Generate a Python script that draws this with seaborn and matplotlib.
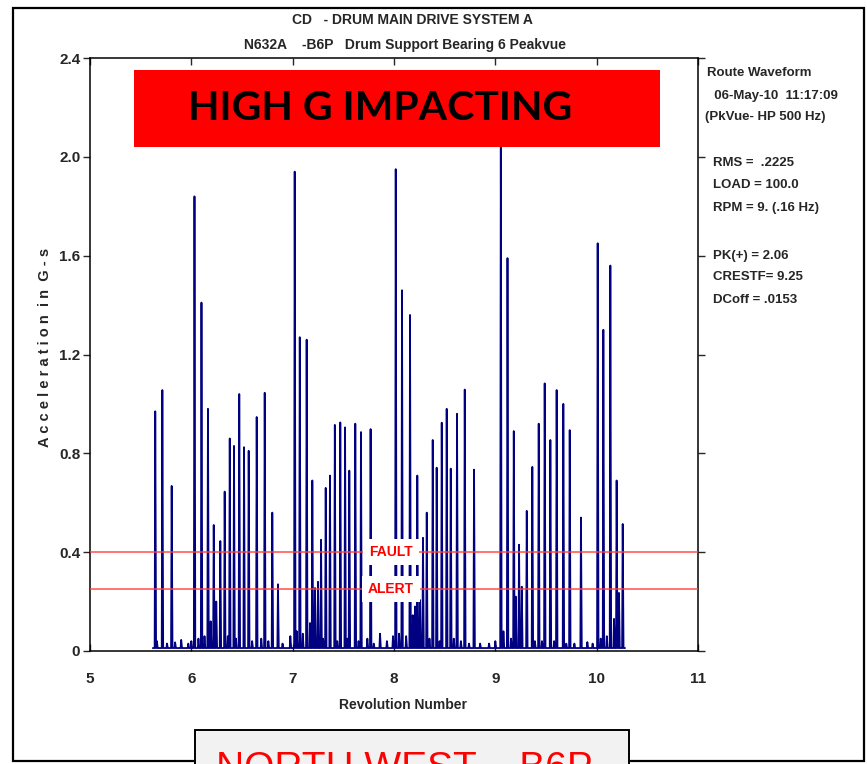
import numpy as np
import pandas as pd
import matplotlib
matplotlib.use("Agg")
import matplotlib.pyplot as plt
from matplotlib import font_manager as fm
from matplotlib.patches import Rectangle
import seaborn as sns

# ---- impacts (revolution, g) ----------------------------------------------
peak_rev = [5.644, 5.714, 5.806, 6.031, 6.100, 6.164, 6.191, 6.221, 6.246, 6.286,
            6.329, 6.379, 6.421, 6.473, 6.520, 6.566, 6.645, 6.724, 6.799, 6.855,
            7.020, 7.070, 7.138, 7.171, 7.194, 7.220, 7.250, 7.280, 7.326, 7.368,
            7.416, 7.470, 7.517, 7.559, 7.618, 7.674, 7.769, 8.017, 8.079, 8.158,
            8.185, 8.207, 8.230, 8.257, 8.286, 8.323, 8.382, 8.421, 8.471, 8.520,
            8.560, 8.622, 8.698, 8.790, 9.054, 9.120, 9.182, 9.202, 9.234, 9.261,
            9.310, 9.365, 9.428, 9.487, 9.543, 9.605, 9.671, 9.734, 9.845, 10.010,
            10.066, 10.135, 10.171, 10.197, 10.220, 10.257]
peak_g = [0.97, 1.056, 0.668, 1.84, 1.41, 0.98, 0.12, 0.51, 0.20, 0.445,
          0.645, 0.86, 0.83, 1.04, 0.825, 0.81, 0.947, 1.045, 0.56, 0.27,
          1.94, 1.27, 1.26, 0.113, 0.69, 0.255, 0.28, 0.45, 0.66, 0.71,
          0.915, 0.925, 0.905, 0.73, 0.92, 0.886, 0.898, 1.95, 1.46, 1.36,
          0.145, 0.18, 0.71, 0.206, 0.458, 0.56, 0.854, 0.742, 0.924, 0.98,
          0.738, 0.96, 1.058, 0.734, 2.06, 1.59, 0.89, 0.22, 0.43, 0.26,
          0.567, 0.745, 0.92, 1.083, 0.854, 1.056, 1.0, 0.894, 0.54, 1.65,
          1.30, 1.56, 0.13, 0.69, 0.235, 0.514]

minor_rev = [5.66, 5.76, 5.84, 5.90, 5.97, 6.00, 6.07, 6.13, 6.36, 6.44,
             6.60, 6.69, 6.76, 6.90, 6.977, 7.04, 7.10, 7.30, 7.44, 7.54,
             7.65, 7.737, 7.80, 7.862, 7.93, 7.99, 8.05, 8.12, 8.35, 8.45,
             8.59, 8.66, 8.74, 8.85, 8.938, 9.00, 9.08, 9.155, 9.39, 9.46,
             9.58, 9.70, 9.78, 9.908, 9.96, 10.04, 10.10]
minor_g = [0.04, 0.03, 0.035, 0.045, 0.03, 0.04, 0.05, 0.06, 0.06, 0.05,
           0.04, 0.05, 0.04, 0.03, 0.06, 0.08, 0.07, 0.05, 0.04, 0.05,
           0.04, 0.05, 0.03, 0.07, 0.04, 0.06, 0.07, 0.06, 0.05, 0.04,
           0.05, 0.04, 0.03, 0.03, 0.03, 0.04, 0.08, 0.05, 0.04, 0.04,
           0.04, 0.03, 0.03, 0.036, 0.03, 0.05, 0.06]

BASE_G = 0.012
START_REV, END_REV = 5.62, 10.28
FAULT_G, ALERT_G = 0.40, 0.25

x_ticks = [5, 6, 7, 8, 9, 10, 11]
y_ticks = [0, 0.4, 0.8, 1.2, 1.6, 2.0, 2.4]
y_ticklabels = ["0", "0.4", "0.8", "1.2", "1.6", "2.0", "2.4"]

title_lines = ["CD   - DRUM MAIN DRIVE SYSTEM A",
               "N632A    -B6P   Drum Support Bearing 6 Peakvue"]
info_lines = ["Route Waveform", "  06-May-10  11:17:09", "(PkVue- HP 500 Hz)",
              "RMS =  .2225", "LOAD = 100.0", "RPM = 9. (.16 Hz)",
              "PK(+) = 2.06", "CRESTF= 9.25", "DCoff = .0153"]
info_xy = [(707, 73), (707, 96), (705, 117), (713, 163), (713, 185), (713, 208),
           (713, 256), (713, 277), (713, 300)]

# ---- build the spike trace ------------------------------------------------
rev = np.array(peak_rev + minor_rev)
amp = np.array(peak_g + minor_g)
order = np.argsort(rev)
xs, ys = [START_REV], [BASE_G]
for r, h in zip(rev[order], amp[order]):
    xs += [r - 0.006, r, r + 0.008]
    ys += [BASE_G, h, BASE_G]
xs.append(END_REV)
ys.append(BASE_G)
wave = pd.DataFrame({"rev": xs, "g": ys})

sns.set_style("white")
plt.rcParams["font.family"] = ["Liberation Sans", "DejaVu Sans"]


def bfp(size):
    return fm.FontProperties(family=["Liberation Sans", "DejaVu Sans"],
                             weight="bold", size=size)


W, H = 867, 764
fig = plt.figure(figsize=(W / 100, H / 100), dpi=100)
fx = lambda px: px / W
fy = lambda py: 1 - py / H

ax = fig.add_axes([fx(90), fy(651), fx(698) - fx(90), fy(58) - fy(651)])
sns.lineplot(data=wave, x="rev", y="g", sort=False, estimator=None,
             color="#000080", lw=1.3, ax=ax, zorder=2)
ax.axhline(FAULT_G, color="#ff4040", lw=1.2, alpha=0.85, zorder=3)
ax.axhline(ALERT_G, color="#ff4040", lw=1.2, alpha=0.85, zorder=3)
for lab, yv in (("FAULT", FAULT_G), ("ALERT", ALERT_G)):
    ax.text(7.97, yv, lab, color="red", fontproperties=bfp(10),
            ha="center", va="center", zorder=4,
            bbox=dict(boxstyle="square,pad=0.45", fc="white", ec="none"))

ax.set_xlim(5, 11)
ax.set_ylim(0, 2.4)
ax.set_xticks(x_ticks)
ax.set_xticklabels([str(t) for t in x_ticks])
ax.set_yticks(y_ticks)
ax.set_yticklabels(y_ticklabels)
ax.tick_params(axis="x", direction="in", length=5, top=True, bottom=True,
               pad=15, width=1)
ax.tick_params(axis="y", direction="out", length=5, left=True, right=True,
               pad=2, width=1)
for lab in ax.get_xticklabels() + ax.get_yticklabels():
    lab.set_fontproperties(bfp(11))
for s in ax.spines.values():
    s.set_color("black")
    s.set_linewidth(1.1)
ax.set_xlabel("")
ax.set_ylabel("")
fig.text(fx(403), fy(705), "Revolution Number", fontproperties=bfp(10),
         ha="center", va="center")
fig.text(fx(45), fy(347), "A c c e l e r a t i o n  i n  G - s", rotation=90,
         fontproperties=bfp(10.5), ha="center", va="center")

# ---- titles and info block -----------------------------------------------
fig.text(fx(412), fy(20), title_lines[0], fontproperties=bfp(10),
         ha="center", va="center")
fig.text(fx(405), fy(45), title_lines[1], fontproperties=bfp(10),
         ha="center", va="center")
for txt, (px, py) in zip(info_lines, info_xy):
    fig.text(fx(px), fy(py), txt, fontproperties=bfp(9.5), ha="left", va="center")

# ---- banner ---------------------------------------------------------------
fig.patches.append(Rectangle((fx(134), fy(147)), fx(660) - fx(134), fy(70) - fy(147),
                             transform=fig.transFigure, fc="#ff0000", ec="none",
                             zorder=5))
fig.text(fx(380), fy(109), "HIGH G IMPACTING", fontsize=29.5, fontweight="bold",
         family=["Lato", "DejaVu Sans"], color="black", ha="center", va="center",
         zorder=6)

# ---- outer frame and bottom caption box ----------------------------------
fig.patches.append(Rectangle((fx(13), fy(761)), fx(864) - fx(13), fy(8) - fy(761),
                             transform=fig.transFigure, fc="none", ec="black",
                             lw=1.6, zorder=1))
fig.patches.append(Rectangle((fx(195), fy(800)), fx(629) - fx(195), fy(730) - fy(800),
                             transform=fig.transFigure, fc="#f2f2f2", ec="black",
                             lw=1.4, zorder=5))
fig.text(fx(216), fy(751), "NORTH WEST – B6P", fontsize=28, fontweight="normal",
         family=["Liberation Sans", "DejaVu Sans"], color="red", ha="left",
         va="top", zorder=6)

fig.savefig("out.png", dpi=100)
